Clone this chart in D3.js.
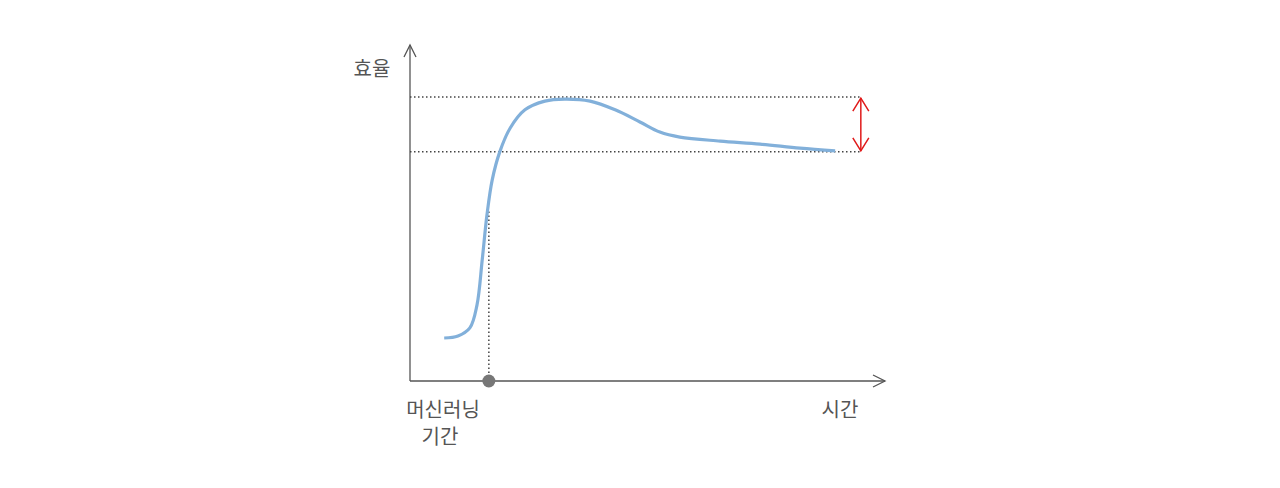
<!DOCTYPE html><html><head><meta charset="utf-8"><script src="https://cdn.jsdelivr.net/npm/d3@7"></script>
<style>body{margin:0;background:#fff}</style></head><body><svg id="c" width="1280" height="488"></svg><script>
const curveX=[7.2,10.1,12.6,14.1,15.2,16.2,17.3,18.9,21.1,24.2,28.4,32.6,37.9,43.2,48.4,52.6,56.8,65.3,73.7,82.1,89.5];
const curveY=[12.8,13.4,15.8,22.6,36.0,49.4,59.8,68.2,75.3,80.7,83.3,83.9,83.3,80.7,77.1,74.1,72.6,71.4,70.5,69.3,68.5];
const levels=[84.5,68.2];
const mlPoint=16.6, mlY=50.9, levelEnd=94.7;
const labels={y:"효율",x:"시간",ml:["머신러닝","기간"]};
const svg=d3.select("#c");
const x=d3.scaleLinear().domain([0,100]).range([410,885]);
const y=d3.scaleLinear().domain([0,100]).range([381,45]);
const g="#555";
svg.append("line").attr("x1",x(0)).attr("x2",x(0)).attr("y1",y(0)).attr("y2",y(100)).attr("stroke",g).attr("stroke-width",1.3);
svg.append("line").attr("x1",x(0)).attr("x2",x(100)).attr("y1",y(0)).attr("y2",y(0)).attr("stroke",g).attr("stroke-width",1.3);
svg.append("path").attr("d",`M${x(0)-6},${y(100)+12}L${x(0)},${y(100)}L${x(0)+6},${y(100)+12}`).attr("fill","none").attr("stroke",g).attr("stroke-width",1.3);
svg.append("path").attr("d",`M${x(100)-12},${y(0)-6}L${x(100)},${y(0)}L${x(100)-12},${y(0)+6}`).attr("fill","none").attr("stroke",g).attr("stroke-width",1.3);
levels.forEach(l=>svg.append("line").attr("x1",x(0)).attr("x2",x(levelEnd)).attr("y1",y(l)).attr("y2",y(l)).attr("stroke","#444").attr("stroke-width",1.5).attr("stroke-dasharray","1.5,2.5"));
svg.append("line").attr("x1",x(mlPoint)).attr("x2",x(mlPoint)).attr("y1",y(0)).attr("y2",y(mlY)).attr("stroke","#444").attr("stroke-width",1.5).attr("stroke-dasharray","1.5,2.5");
svg.append("path").datum(curveX.map((d,i)=>[d,curveY[i]])).attr("d",d3.line().x(d=>x(d[0])).y(d=>y(d[1])).curve(d3.curveCatmullRom)).attr("fill","none").attr("stroke","#82b0da").attr("stroke-width",3.2);
svg.append("circle").attr("cx",x(mlPoint)).attr("cy",y(0)).attr("r",6.5).attr("fill","#777");
const ax=x(levelEnd)+1,a1=y(levels[0]),a2=y(levels[1]),red="#e01a1a";
svg.append("line").attr("x1",ax).attr("x2",ax).attr("y1",a1+1).attr("y2",a2-1).attr("stroke",red).attr("stroke-width",1.5);
svg.append("path").attr("d",`M${ax-8},${a1+14}L${ax},${a1+1}L${ax+8},${a1+14}M${ax-8},${a2-14}L${ax},${a2-1}L${ax+8},${a2-14}`).attr("fill","none").attr("stroke",red).attr("stroke-width",1.5);
const f="'Noto Sans CJK KR',sans-serif";
svg.append("text").attr("x",372).attr("y",76).attr("text-anchor","middle").attr("font-family",f).attr("font-size",20).attr("fill",g).text(labels.y);
svg.append("text").attr("x",840).attr("y",417).attr("text-anchor","middle").attr("font-family",f).attr("font-size",20).attr("fill",g).text(labels.x);
labels.ml.forEach((t,i)=>svg.append("text").attr("x",i?440:443).attr("y",417+i*27).attr("text-anchor","middle").attr("font-family",f).attr("font-size",20).attr("fill",g).text(t));
</script></body></html>
